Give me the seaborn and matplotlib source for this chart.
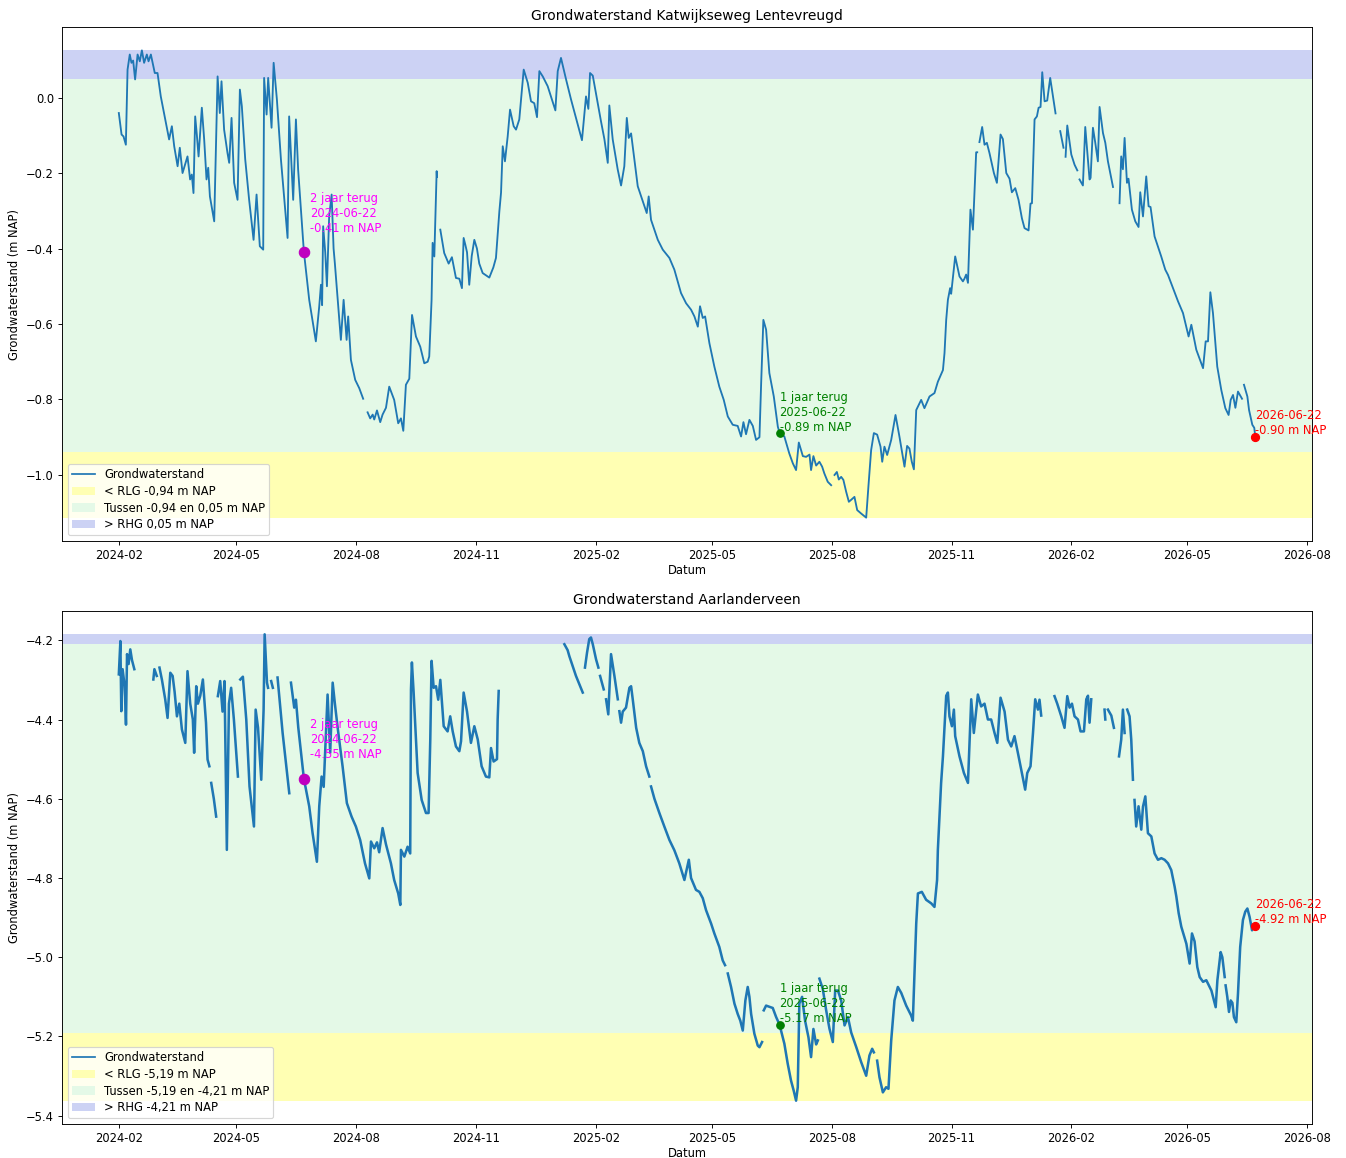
import numpy as np
import pandas as pd
import matplotlib
matplotlib.use("Agg")
import matplotlib.pyplot as plt
import matplotlib.dates as mdates
from matplotlib.lines import Line2D
from matplotlib.patches import Patch
import seaborn as sns

nan = np.nan
START = "2024-02-01"

# ---- Katwijkseweg Lentevreugd: days since START, level (m NAP); NaN = gap ----
kat_days = [0, 2.1, 3.6, 5.4, 6.7, 8.4, 9.7, 11, 12.5, 14.4, 16.1, 17.7, 19.4, 21.5, 22.8, 24.6,
            27.6, 29.7, 32.2, 38.6, 40.7, 42.5, 45.1, 46.8, 48.9, 52.7, 54.7, 56, 57.3, 58.6, 59.9,
            61.2, 63.7, 65.5, 67.3, 68.6, 69.9, 73.2, 75.8, 77.5, 78.8, 80.8, 83.4, 84.7, 86.5, 88.5,
            91.1, 92.9, 94.4, 97, 100, 103.4, 105.7, 108.2, 110.8, 111.5, 113.4, 114.6, 117.2, 118.8,
            121.3, 124.4, 129.5, 130.7, 133.8, 135.9, 137.6, 142, 146.1, 151.2, 153.8, 155.1, 156,
            156.8, 158.4, 159.7, 161.4, 163.3, 164.8, 165.8, 170.4, 172.5, 174.8, 176, 178.1, 181.4,
            184.5, 187.5, 189, 190.9, 192.9, 194.8, 196, 198.1, 200.6, 202.4, 205, 207.5, 211.3,
            214.4, 216.5, 218.3, 220.3, 222.9, 225, 228, 231.3, 234.4, 237, 238.2, 240, 240.8, 242.1,
            243.9, 244.1, 245, 246.7, 249.7, 253.1, 255.6, 258.7, 261.3, 263.3, 264.6, 265.9, 267.2,
            268.9, 270.8, 272.8, 274.8, 276.6, 279.2, 284.3, 287.4, 289.4, 292, 293.3, 294.6, 296.3,
            298.4, 300.2, 303, 304.8, 307.3, 310.7, 313.8, 316.3, 318.8, 320.9, 322.7, 325.3, 329.1,
            335, 336.8, 339.3, 343.2, 347, 355.4, 358.5, 360.3, 361.6, 363.7, 370, 372.6, 375.2,
            376.4, 379, 382.8, 385.4, 387.9, 389.8, 391.3, 393.1, 398.2, 405.1, 406.6, 408.4, 413.6,
            417.4, 422.5, 426.3, 431.4, 435.3, 439.1, 441.7, 444.3, 446, 448.1, 449.9, 453.2, 457,
            460.8, 464.2, 467.3, 471.1, 474.9, 477.5, 479.3, 481.3, 483.9, 486.5, 489, 491.6, 492.9,
            494.6, 496.7, 499.2, 502.6, 505.7, 507, 510.7, 514.5, 517.2, 519.7, 521.8, 524.9, 527.4,
            530, 531.2, 533, 535.1, 537.6, 539.7, 541.4, 544, 546.6, 548, 549.2, 551, 552.5, 554.3,
            556, 558.1, 560.2, 561.9, 564.5, 566.6, 569.6, 573.5, 575.2, 577.3, 579.4, 581.9, 584.5,
            585.8, 587.5, 589.6, 592.7, 596, 599, 602.9, 604.9, 606.7, 608.5, 610.1, 611.9, 615.7,
            618.2, 622.1, 625.9, 628.5, 632.4, 633.6, 634.9, 636.2, 637.9, 638.7, 641.8, 645.1,
            647.7, 648.9, 650.2, 651.6, 653.5, 655.4, 657.9, 658.7, 659.5, 660.4, 662.5, 664.3,
            666.1, 668.1, 671.5, 673.8, 676.6, 678.4, 681, 683.5, 685.3, 687.9, 690.4, 693, 695,
            698.1, 699.6, 700.7, 702.7, 704.5, 705.8, 707.3, 708.6, 710.4, 712.4, 714.7, 718.8,
            720.5, 722.4, 724.9, 725.6, 726.5, 727.8, 730.9, 733.4, 735.5, 736.5, 737.2, 739.8,
            741.6, 744.9, 745.7, 747.5, 749.3, 751.3, 752.6, 755.2, 757, 759, 762.9, 765, 767.9,
            769.2, 770.5, 771.8, 773.6, 774.8, 777.4, 780, 782.5, 783.8, 785.9, 788.4, 790.2, 791.7,
            794.8, 799.9, 803, 805.1, 812.8, 816.6, 820.9, 823, 826.8, 832, 834, 835.8, 837.6, 839.6,
            842.9, 846, 849.1, 851.6, 853.2, 855, 856.8, 858.8, 861.9, 862.7, 863.4, 866, 867.3,
            869.8, 871.3, 872]
kat_vals = [-0.041, -0.098, -0.103, -0.125, 0.074, 0.114, 0.092, 0.098, 0.048, 0.114, 0.096, 0.125,
            0.092, 0.114, 0.096, 0.114, 0.065, 0.065, 0.003, -0.111, -0.076, -0.129, -0.182, -0.133,
            -0.2, -0.156, -0.217, -0.204, -0.253, -0.05, -0.1, -0.156, -0.027, -0.111, -0.217, -0.186,
            -0.262, -0.328, 0.056, -0.041, 0.043, -0.085, -0.147, -0.173, -0.054, -0.226, -0.271,
            0.021, -0.023, -0.164, -0.271, -0.377, -0.257, -0.394, -0.403, 0.052, -0.045, 0.052,
            -0.08, 0.092, -0.005, -0.164, -0.372, -0.05, -0.271, -0.058, -0.191, -0.408, -0.536,
            -0.646, -0.553, -0.496, -0.55, -0.341, -0.41, -0.5, -0.315, -0.257, -0.4, -0.44, -0.642,
            -0.536, -0.642, -0.58, -0.695, -0.748, -0.77, -0.798, nan, -0.834, -0.85, -0.84, -0.853,
            -0.829, -0.86, -0.84, -0.822, -0.766, -0.801, -0.863, -0.85, -0.883, -0.761, -0.745,
            -0.576, -0.633, -0.66, -0.704, -0.7, -0.686, -0.536, -0.385, -0.421, -0.195, -0.21, nan,
            -0.35, -0.412, -0.44, -0.423, -0.478, -0.48, -0.505, -0.372, -0.39, -0.41, -0.496, -0.42,
            -0.377, -0.4, -0.44, -0.465, -0.477, -0.45, -0.425, -0.302, -0.252, -0.129, -0.169,
            -0.103, -0.032, -0.076, -0.085, -0.058, 0.074, 0.039, -0.01, -0.015, -0.052, 0.07, 0.056,
            0.03, -0.034, 0.07, 0.105, 0.048, -0.005, -0.113, 0.003, -0.03, 0.065, 0.058, -0.063,
            -0.11, -0.173, -0.021, -0.111, -0.19, -0.233, -0.182, -0.054, -0.107, -0.095, -0.235,
            -0.306, -0.262, -0.324, -0.377, -0.403, -0.425, -0.456, -0.518, -0.545, -0.562, -0.58,
            -0.607, -0.553, -0.584, -0.58, -0.651, -0.713, -0.766, -0.801, -0.845, -0.867, -0.87,
            -0.898, -0.86, -0.892, -0.854, -0.87, -0.907, -0.9, -0.757, -0.589, -0.615, -0.73,
            -0.792, -0.872, -0.888, -0.898, -0.943, -0.969, -0.987, -0.914, -0.95, -0.952, -0.946,
            -0.987, -0.95, -0.975, -0.965, -0.978, -0.996, -1.018, -1.027, nan, -1.0, -0.992, -1.012,
            -1.005, -1.013, -1.044, -1.071, -1.066, -1.058, -1.093, -1.102, -1.113, -1.031, -0.934,
            -0.889, -0.893, -0.925, -0.965, -0.925, -0.947, -0.907, -0.841, -0.898, -0.978, -0.923,
            -0.93, -0.965, -0.985, -0.828, -0.801, -0.823, -0.792, -0.783, -0.753, -0.722, -0.677,
            -0.589, -0.536, -0.505, -0.52, -0.421, -0.474, -0.487, -0.48, -0.469, -0.491, -0.297,
            -0.35, -0.145, -0.145, nan, -0.118, -0.078, -0.125, -0.12, -0.147, -0.2, -0.226, -0.098,
            -0.11, -0.2, -0.215, -0.251, -0.24, -0.271, -0.32, -0.346, -0.352, -0.281, -0.28, -0.058,
            -0.05, -0.027, -0.025, 0.067, -0.01, -0.008, 0.052, -0.042, nan, -0.089, -0.133, nan,
            -0.157, -0.074, -0.151, -0.178, -0.193, nan, -0.217, -0.233, -0.078, -0.217, -0.213,
            -0.08, -0.12, -0.169, -0.025, -0.094, -0.12, -0.169, -0.237, nan, -0.28, -0.156, -0.19,
            -0.107, -0.226, -0.215, -0.297, -0.328, -0.343, -0.251, -0.315, -0.209, -0.288, -0.29,
            -0.368, -0.421, -0.456, -0.47, -0.54, -0.571, -0.633, -0.602, -0.668, -0.717, -0.646,
            -0.646, -0.516, -0.571, -0.713, -0.775, -0.823, -0.841, -0.801, -0.788, -0.822, -0.779,
            -0.798, nan, -0.761, -0.792, -0.828, -0.867, -0.875, -0.897]

# ---- Aarlanderveen ----
aar_days = [0, 1.2, 1.9, 2.9, 4.5, 5.5, 6.3, 7.5, 8.8, 10.1, 11.9, 15, 26.5, 27.3, 29.1, 30, 31.2,
            33.1, 35.6, 37.4, 39.5, 41.3, 42.8, 44.6, 46.4, 48.4, 51, 52.7, 54.8, 56.8, 57.8, 59.4,
            60.7, 62.5, 64.5, 66.9, 68.1, 69.5, 70.2, 70.9, 72.9, 74.7, 75.5, 76, 77.8, 79.6, 81.1,
            82.9, 84.5, 86.2, 88.3, 91.4, 92, 93.2, 95.2, 97.8, 100.3, 103.7, 105, 106.8, 109.3,
            111.1, 111.9, 113.7, 114.5, 115.5, 116.9, 118.2, 119.5, 121.8, 125.7, 130.8, 131.5,
            132.1, 134.6, 135.9, 137.7, 142, 146.1, 148.7, 152, 153.8, 155.6, 157.2, 160.2, 162.2,
            164.1, 165.8, 167.9, 171.7, 175, 178.6, 181.9, 185.2, 188.9, 192.2, 193.5, 196, 198.1,
            199.8, 202.4, 205, 208.8, 211.3, 214.4, 216, 216.5, 219.1, 221.6, 223.6, 224.2, 224.9,
            226.2, 229.3, 232.4, 235.7, 237.7, 239, 240, 241.6, 243.4, 245.1, 246.7, 249.3, 252.3,
            254.3, 256.2, 258.7, 261.3, 262.6, 264.6, 267.2, 270.2, 272.8, 275.4, 278.4, 281.7,
            284.3, 285.6, 287.6, 290.2, 290.7, 291.5, 300, 341.9, 344.4, 345.7, 350.8, 356, 356.8,
            357.7, 359.3, 361, 362.3, 363.7, 366.2, 368, 368.7, 369.3, 372.1, 373, 373.9, 375.6,
            377.7, 380.3, 382.9, 383.5, 384.1, 385.4, 386.7, 389.2, 391.8, 393.1, 394.4, 397, 399.4,
            402.1, 404.6, 407.1, 407.8, 408.4, 411, 414.8, 418.6, 422.5, 426.3, 430.1, 434, 437.4,
            439.1, 442.9, 445.5, 448.1, 450.6, 454.5, 457, 460.8, 463.4, 465.2, 465.8, 467.3, 469.8,
            472.4, 474.9, 476.9, 478.8, 480.8, 482.6, 483.9, 485.2, 487.7, 490.3, 491.6, 493.6,
            494.1, 494.9, 496.7, 499.2, 501.8, 504.4, 507, 510.7, 513.3, 515.8, 517.9, 519.7, 521,
            522.2, 524.3, 526.6, 529.2, 531.2, 533, 535.1, 536.4, 537, 537.6, 540.2, 542.8, 545.3,
            547.9, 549.7, 551.8, 554.3, 556.9, 559.5, 562, 565.9, 569.7, 573.5, 576, 578.1, 579.4,
            580.5, 581.9, 583.7, 586.3, 588.8, 590.6, 592.7, 595.2, 597.8, 600.4, 604.2, 608, 609.3,
            611.9, 613.2, 616.2, 619.5, 623.4, 625.9, 627.9, 628.5, 631, 632.4, 634.9, 636.2, 637.4,
            639.3, 640.8, 641.8, 645.1, 648.5, 651.6, 654.1, 656.1, 659.2, 661.7, 664.3, 666.9,
            669.4, 672, 674.1, 676.6, 679.7, 682.3, 684.8, 687.3, 689.9, 692.5, 695.5, 697.1, 699.6,
            701.5, 703.2, 705.3, 706.5, 707.8, 708.5, 710.4, 712, 718, 720.1, 723.2, 725.7, 727.8,
            729.6, 731.4, 733.4, 736, 738, 740.6, 742.4, 743.7, 744.9, 746.2, 752, 756.4, 757,
            757.5, 759, 761.6, 763.6, 765, 767.5, 769.2, 770.5, 771.8, 772.5, 773.8, 775.6, 776.9,
            778.2, 779, 779.4, 780.7, 782.5, 784.6, 785.9, 787.7, 789.7, 792.3, 794.8, 797.4, 800,
            802.5, 805.1, 807.6, 810.2, 811.5, 813.3, 815.3, 819.2, 821.7, 823.5, 825.5, 827.6,
            829.4, 832, 834.5, 838.4, 841.7, 843, 845.5, 846.8, 848.6, 849, 849.3, 850.6, 851.9,
            853.2, 854.5, 855.7, 857.5, 858.8, 860.5, 862.6, 864.4, 866, 867.7, 869.6, 870.8, 872]
aar_vals = [-4.286, -4.202, -4.379, -4.273, -4.316, -4.413, -4.235, -4.26, -4.223, -4.25, -4.273, nan,
            -4.299, -4.273, -4.29, nan, -4.269, -4.3, -4.349, -4.396, -4.282, -4.29, -4.33, -4.392,
            -4.36, -4.425, -4.459, -4.278, -4.36, -4.4, -4.484, -4.316, -4.36, -4.34, -4.299, -4.408,
            -4.501, -4.518, nan, -4.56, -4.6, -4.645, nan, -4.341, -4.303, -4.38, -4.303, -4.729,
            -4.36, -4.32, -4.4, -4.544, nan, -4.299, -4.292, -4.4, -4.569, -4.67, -4.375, -4.42,
            -4.552, -4.375, -4.185, -4.307, -4.32, nan, -4.303, -4.32, nan, -4.294, -4.434, -4.586,
            nan, -4.307, -4.37, -4.35, -4.42, -4.549, -4.619, -4.687, -4.759, -4.619, -4.544, -4.57,
            -4.337, -4.484, -4.307, -4.36, -4.42, -4.518, -4.611, -4.645, -4.67, -4.704, -4.763,
            -4.801, -4.708, -4.725, -4.71, -4.735, -4.674, -4.715, -4.763, -4.805, -4.839, -4.868,
            -4.729, -4.746, -4.721, -4.738, -4.324, -4.256, -4.33, -4.535, -4.603, -4.636, -4.636,
            -4.451, -4.252, -4.32, -4.316, -4.35, -4.3, -4.417, -4.43, -4.392, -4.43, -4.468, -4.48,
            -4.455, -4.332, -4.38, -4.459, -4.417, -4.45, -4.518, -4.544, -4.546, -4.472, -4.506,
            -4.5, -4.4, -4.328, nan, -4.21, -4.225, -4.24, -4.29, -4.332, nan, -4.269, -4.231,
            -4.197, -4.193, -4.21, -4.248, -4.269, nan, -4.29, -4.324, nan, -4.349, -4.387, -4.235,
            -4.29, -4.349, nan, -4.379, -4.408, -4.38, -4.37, -4.32, -4.316, -4.35, -4.421, -4.459,
            -4.48, -4.518, -4.544, nan, -4.569, -4.6, -4.636, -4.67, -4.704, -4.73, -4.763, -4.805,
            -4.754, -4.8, -4.83, -4.835, -4.851, -4.881, -4.915, -4.94, -4.974, -5.008, -5.02, nan,
            -5.041, -5.075, -5.117, -5.143, -5.16, -5.185, -5.109, -5.075, -5.1, -5.143, -5.193,
            -5.223, -5.227, -5.214, nan, -5.134, -5.122, -5.125, -5.128, -5.151, -5.17, -5.218,
            -5.269, -5.311, -5.337, -5.362, -5.328, -5.117, -5.1, -5.16, -5.202, -5.252, -5.181,
            -5.22, -5.21, nan, -5.054, -5.08, -5.134, -5.18, -5.214, -5.084, -5.084, -5.109, -5.172,
            -5.151, -5.19, -5.227, -5.265, -5.299, -5.248, -5.231, -5.24, nan, -5.261, -5.303,
            -5.341, -5.328, -5.332, -5.21, -5.109, -5.075, -5.09, -5.122, -5.147, -5.16, -4.915,
            -4.839, -4.835, -4.855, -4.864, -4.873, -4.805, -4.729, -4.56, -4.493, -4.34, -4.332,
            -4.392, -4.417, -4.375, -4.442, -4.493, -4.535, -4.56, -4.349, -4.434, -4.337, -4.367,
            -4.36, -4.4, -4.4, -4.434, -4.459, -4.345, -4.38, -4.451, -4.468, -4.442, -4.484,
            -4.527, -4.577, -4.535, -4.518, -4.434, -4.349, -4.375, -4.35, -4.39, nan, -4.332, nan,
            -4.341, -4.36, -4.392, -4.421, -4.341, -4.37, -4.36, -4.392, -4.4, -4.43, -4.43, -4.349,
            -4.34, -4.408, -4.349, nan, -4.375, -4.4, nan, -4.375, -4.39, -4.421, nan, -4.493,
            -4.451, -4.375, -4.434, nan, -4.375, -4.392, -4.451, -4.552, nan, -4.603, -4.67, -4.619,
            -4.678, -4.62, -4.594, -4.687, -4.695, -4.738, -4.754, -4.75, -4.754, -4.763, -4.78,
            -4.822, -4.847, -4.889, -4.923, -4.966, -5.016, -4.94, -4.96, -5.025, -5.05, -5.062,
            -5.058, -5.084, -5.126, -5.058, -4.987, -5.0, -5.05, nan, -5.071, -5.1, -5.138, -5.109,
            -5.115, -5.151, -5.164, -5.092, -4.974, -4.906, -4.885, -4.877, -4.898, -4.932, -4.92,
            -4.92]

# thresholds (m NAP)
kat_rlg, kat_rhg = -0.94, 0.05
aar_rlg, aar_rhg = -5.19, -4.21

# reference points: (label, date, value)
kat_refs = [("2 jaar terug", "2024-06-22", -0.41), ("1 jaar terug", "2025-06-22", -0.89),
            ("", "2026-06-22", -0.90)]
aar_refs = [("2 jaar terug", "2024-06-22", -4.55), ("1 jaar terug", "2025-06-22", -5.17),
            ("", "2026-06-22", -4.92)]

titles = ["Grondwaterstand Katwijkseweg Lentevreugd", "Grondwaterstand Aarlanderveen"]

YELLOW = "#ffffb3"
GREEN = "#e4f9e7"
BLUE = "#ccd2f4"
LINE = "#1f77b4"


def fmt(v):
    return f"{v:.2f}".replace(".", ",")


def make_df(days, vals):
    df = pd.DataFrame({"day": days, "value": vals})
    df["date"] = pd.Timestamp(START) + pd.to_timedelta(df["day"], unit="D")
    df["seg"] = df["value"].isna().cumsum()
    return df.dropna(subset=["value"])


DPI = 83
fig = plt.figure(figsize=(1346 / DPI, 1158 / DPI), dpi=DPI)
L, R = 62 / 1346, 1312 / 1346
ax1 = fig.add_axes([L, 1 - 541 / 1158, R - L, (541 - 27) / 1158])
ax2 = fig.add_axes([L, 1 - 1124 / 1158, R - L, (1124 - 611) / 1158])

series = [(ax1, kat_days, kat_vals, kat_rlg, kat_rhg, kat_refs, titles[0], 1.6),
          (ax2, aar_days, aar_vals, aar_rlg, aar_rhg, aar_refs, titles[1], 2.2)]

for ax, days, vals, rlg, rhg, refs, title, lw in series:
    df = make_df(days, vals)
    vmin, vmax = df["value"].min(), df["value"].max()
    ax.axhspan(vmin, rlg, color=YELLOW, lw=0, zorder=0)
    ax.axhspan(rlg, rhg, color=GREEN, lw=0, zorder=0)
    ax.axhspan(rhg, vmax, color=BLUE, lw=0, zorder=0)
    sns.lineplot(data=df, x="date", y="value", units="seg", estimator=None,
                 color=LINE, lw=lw, ax=ax, legend=False, zorder=2)

    styles = [("#bf00bf", "magenta", 9, (5.5, 18)),
              ("green", "green", 6.5, (0, 2.5)),
              ("red", "red", 7, (0, 2.5))]
    for (lab, d, v), (mc, tc, ms, off) in zip(refs, styles):
        dt = pd.Timestamp(d)
        ax.plot([dt], [v], "o", color=mc, ms=ms, zorder=3)
        txt = (lab + "\n" if lab else "") + f"{d}\n{v:.2f} m NAP"
        ax.annotate(txt, xy=(dt, v), xytext=off, textcoords="offset points",
                    color=tc, fontsize=10, zorder=4)

    handles = [Line2D([0], [0], color=LINE, lw=1.5, label="Grondwaterstand"),
               Patch(facecolor=YELLOW, label=f"< RLG {fmt(rlg)} m NAP"),
               Patch(facecolor=GREEN, label=f"Tussen {fmt(rlg)} en {fmt(rhg)} m NAP"),
               Patch(facecolor=BLUE, label=f"> RHG {fmt(rhg)} m NAP")]
    ax.legend(handles=handles, loc="lower left", fontsize=10, labelspacing=0.32,
              borderpad=0.35)

    ax.xaxis.set_major_locator(mdates.MonthLocator(bymonth=[2, 5, 8, 11]))
    ax.xaxis.set_major_formatter(mdates.DateFormatter("%Y-%m"))
    ax.set_title(title, fontsize=12)
    ax.set_xlabel("Datum", fontsize=10, labelpad=1.5)
    ax.set_ylabel("Grondwaterstand (m NAP)", fontsize=10)
    ax.tick_params(labelsize=10)

fig.savefig("out.png", dpi=DPI)
